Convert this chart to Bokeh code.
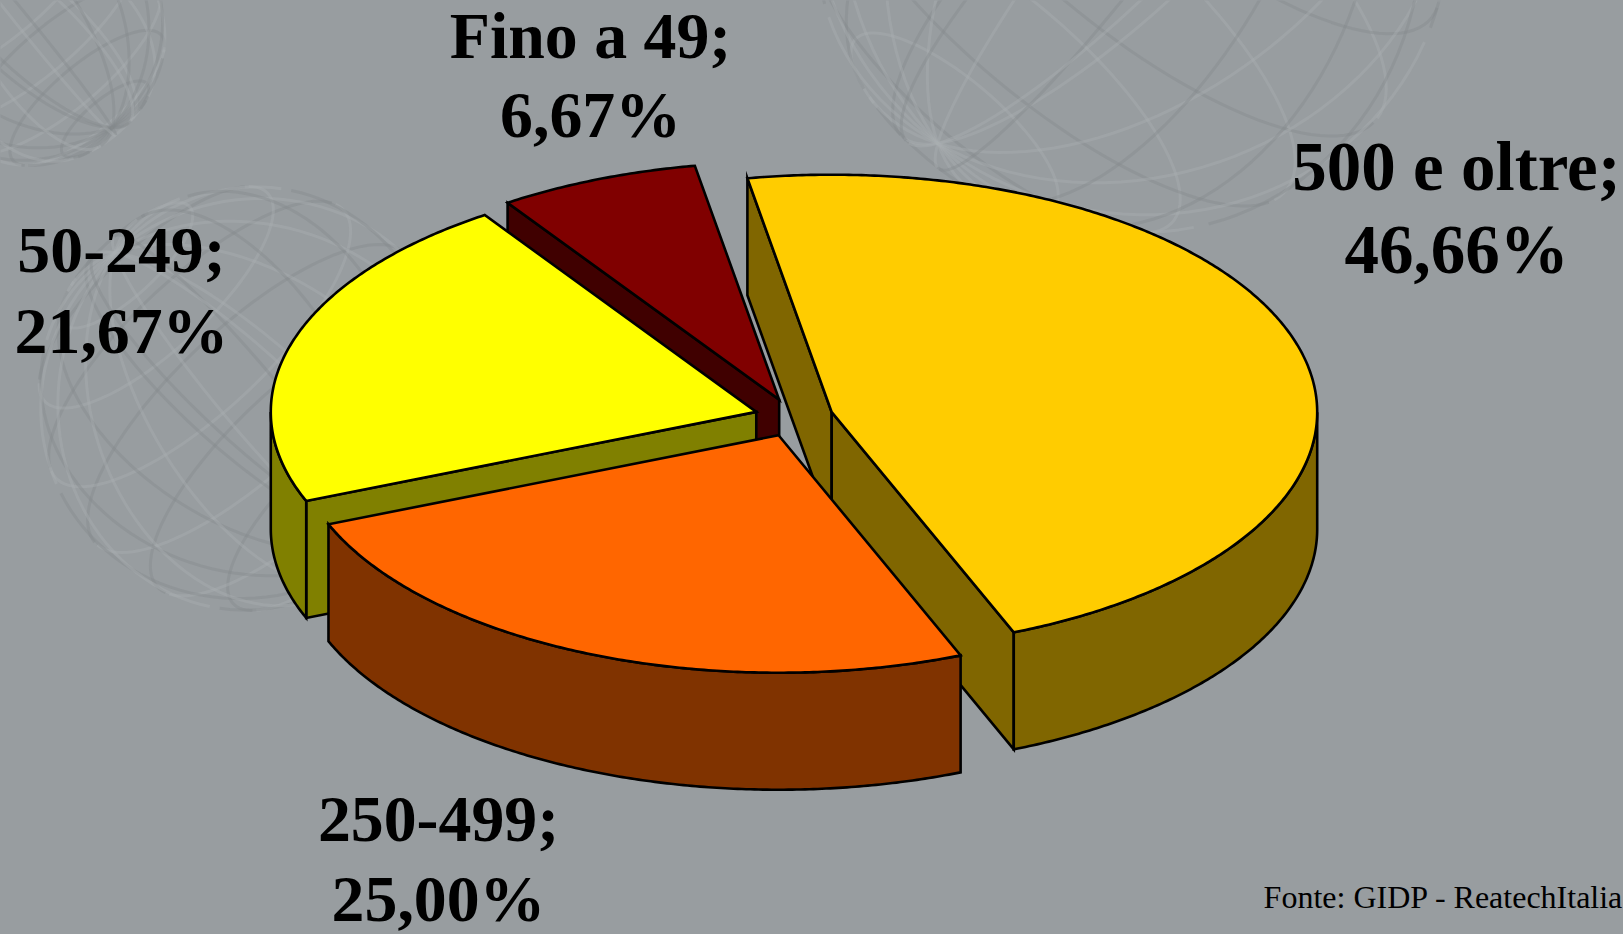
import numpy as np
from bokeh.plotting import figure
from bokeh.models import Range1d, ColumnDataSource
from bokeh.core.properties import value
from bokeh.embed import file_html
from bokeh.resources import INLINE

# ---- data
categories = ["500 e oltre", "250-499", "50-249", "Fino a 49"]
shares = [46.66, 25.00, 21.67, 6.67]
share_labels = ["46,66%", "25,00%", "21,67%", "6,67%"]
top_colors = ["#FFCC00", "#FF6600", "#FFFF00", "#800000"]
wall_colors = ["#806600", "#803300", "#808000", "#400000"]
source_note = "Fonte: GIDP - ReatechItalia"

# ---- layout
W, H = 1623, 934
BG = "#989DA0"
CX, CY = 793.4, 417.0      # pie centre in page pixels
RX, RY = 485.5, 237.5      # ellipse of the pie top
DEPTH = 117.0
EXPLODE = 0.081
START_DEG = -10.0          # clockwise from the top
LABEL_POS = {"500 e oltre": (1456, 166, 249, 69), "250-499": (438, 818, 898, 65.8),
             "50-249": (121, 249, 330, 65.8), "Fino a 49": (590, 35, 114, 65.8)}
DRAW_ORDER = [3, 2, 0, 1]  # back to front

p = figure(width=W, height=H, x_range=Range1d(0, W), y_range=Range1d(H, 0),
           output_backend="svg", toolbar_location=None, min_border=0,
           background_fill_color=BG, border_fill_color=BG, outline_line_color=None)
p.xaxis.visible = False
p.yaxis.visible = False
p.grid.visible = False


# ---- faint wire globes of the slide background
def globe(cx, cy, r, tilt, yaw, roll):
    ct, st, cy_, sy_ = np.cos(tilt), np.sin(tilt), np.cos(yaw), np.sin(yaw)
    cr, sr = np.cos(roll), np.sin(roll)

    def project(lat, lon):
        x = np.cos(lat) * np.sin(lon)
        y = np.sin(lat)
        z = np.cos(lat) * np.cos(lon)
        x, z = x * cy_ + z * sy_, -x * sy_ + z * cy_
        y, z = y * ct - z * st, y * st + z * ct
        x, y = x * cr - y * sr, x * sr + y * cr
        return cx + r * x, cy - r * y, z

    lines = []
    t = np.linspace(-np.pi, np.pi, 121)
    for lat in np.radians(np.arange(-66, 67, 22)):
        lines.append(project(np.full_like(t, lat), t))
    for lon in np.radians(np.arange(0, 180, 22)):
        lines.append(project(t, np.full_like(t, lon)))
    for x, y, z in lines:
        for front, colour, alpha, width in ((False, "#84898C", 0.40, 3.0), (True, "#A9AEB1", 0.40, 3.0)):
            mask = z >= 0 if front else z < 0
            xs, ys = x.copy(), y.copy()
            xs[~mask] = np.nan
            ys[~mask] = np.nan
            p.line(xs, ys, line_color=colour, line_alpha=alpha, line_width=width)


globe(250, 398, 212, 0.35, 0.3, 0.75)
globe(1131, -87, 320, -0.35, 0.3, -0.7)
globe(30, 30, 135, 0.35, 0.4, 0.7)

# ---- pie geometry, all derived from the shares
totals = np.cumsum([0.0] + shares)
angles = START_DEG + totals / totals[-1] * 360.0
xs, ys, fills = [], [], []


def ring(t):
    r = np.radians(t)
    return RX * np.sin(r), -RY * np.cos(r)


def faces_viewer(t):
    return -np.cos(np.radians(t)) > 0


for i in DRAW_ORDER:
    t0, t1 = angles[i], angles[i + 1]
    mid = (t0 + t1) / 2
    mx, my = ring(mid)
    ax, ay = CX + EXPLODE * mx, CY + EXPLODE * my
    ts = np.linspace(t0, t1, int(t1 - t0) * 2 + 2)
    rx, ry = ring(ts)
    rx, ry = ax + rx, ay + ry
    # cut walls, only those turned towards the viewer
    for end_x, end_y, normal in ((rx[0], ry[0], t0 - 90), (rx[-1], ry[-1], t1 + 90)):
        if faces_viewer(normal):
            xs.append([ax, end_x, end_x, ax])
            ys.append([ay, end_y, end_y + DEPTH, ay + DEPTH])
            fills.append(wall_colors[i])
    # outer wall: only the front half of the rim
    lo, hi = max(t0, 90.0), min(t1, 270.0)
    if hi > lo:
        wt = np.linspace(lo, hi, int(hi - lo) * 2 + 2)
        wx, wy = ring(wt)
        wx, wy = ax + wx, ay + wy
        xs.append(list(wx) + list(wx[::-1]))
        ys.append(list(wy) + list(wy[::-1] + DEPTH))
        fills.append(wall_colors[i])
    # top face
    xs.append([ax] + list(rx))
    ys.append([ay] + list(ry))
    fills.append(top_colors[i])

p.patches("xs", "ys", fill_color="fills", line_color="black", line_width=2.6, line_join="miter",
          source=ColumnDataSource(dict(xs=xs, ys=ys, fills=fills)))

# ---- labels
for name, pct in zip(categories, share_labels):
    lx, y1, y2, size = LABEL_POS[name]
    p.text([lx, lx], [y1, y2], text=[name + ";", pct], text_align="center", text_baseline="middle",
           text_font=value("Liberation Serif"), text_font_style="bold",
           text_font_size=f"{size}px", text_color="black")

p.text([W], [896], text=[source_note], text_align="right", text_baseline="middle",
       text_font=value("Liberation Serif"), text_font_size="32px", text_color="black")

html = file_html(p, INLINE)
html = html.replace("<head>", f"<head><style>html,body{{margin:0;padding:0;background:{BG};overflow:hidden}}</style>", 1)
open("out.html", "w").write(html)
